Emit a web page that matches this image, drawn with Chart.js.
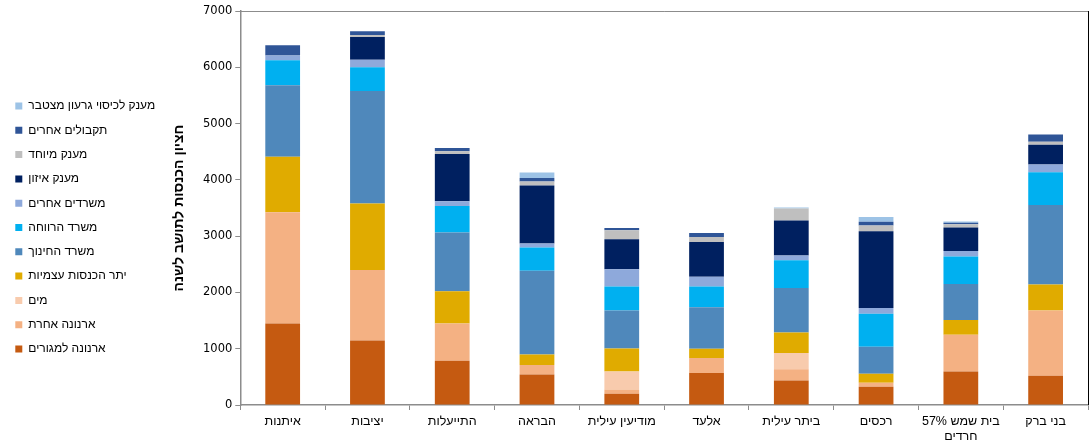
<!DOCTYPE html>
<html lang="he">
<head>
  <meta charset="UTF-8">
  <title>הכנסות לתושב לשנה</title>
  <style>
    html, body {
      margin: 0;
      padding: 0;
      background-color: #fff;
    }
    #wrap {
      width: 1092px;
      height: 444px;
    }
  </style>
</head>
<body>
  <div id="wrap"><canvas id="chart" dir="rtl" width="1092" height="444"></canvas></div>

  <script src="https://cdn.jsdelivr.net/npm/chart.js"></script>
  <script>
    const categories = ['איתנות', 'יציבות', 'התייעלות', 'הבראה', 'מודיעין עילית', 'אלעד', 'ביתר עילית', 'רכסים', ['בית שמש 57%', 'חרדים'], 'בני ברק'];

    // bottom to top
    const seriesNames = ['ארנונה למגורים', 'ארנונה אחרת', 'מים', 'יתר הכנסות עצמיות', 'משרד החינוך', 'משרד הרווחה', 'משרדים אחרים', 'מענק איזון', 'מענק מיוחד', 'תקבולים אחרים', 'מענק לכיסוי גרעון מצטבר'];
    const seriesColors = ['#C55A11', '#F4B183', '#F8CBAD', '#E0AB00', '#4F88BB', '#00B0F0', '#8EA9DB', '#002060', '#BFBFBF', '#2F5597', '#9DC3E6'];

    const residential = [1450, 1145, 785, 540, 200, 570, 435, 325, 595, 520];
    const otherTax = [1975, 1255, 665, 170, 75, 265, 200, 70, 655, 1160];
    const water = [0, 0, 0, 0, 320, 0, 290, 0, 0, 0];
    const ownIncome = [985, 1180, 570, 185, 410, 165, 365, 160, 260, 460];
    const education = [1270, 2000, 1045, 1490, 675, 735, 790, 480, 640, 1415];
    const welfare = [445, 420, 470, 415, 425, 370, 490, 585, 490, 580];
    const otherMinistries = [85, 135, 85, 70, 305, 175, 85, 105, 95, 140];
    const balanceGrant = [0, 405, 840, 1030, 535, 615, 625, 1360, 420, 350];
    const specialGrant = [0, 35, 50, 70, 160, 90, 210, 105, 55, 50];
    const otherReceipts = [180, 65, 55, 65, 40, 70, 0, 65, 30, 130];
    const deficitGrant = [0, 0, 0, 95, 0, 0, 20, 85, 20, 0];

    const yTicks = [0, 1000, 2000, 3000, 4000, 5000, 6000, 7000];

    const seriesValues = [residential, otherTax, water, ownIncome, education, welfare, otherMinistries, balanceGrant, specialGrant, otherReceipts, deficitGrant];

    const datasets = seriesNames.map((name, i) => ({
      label: name,
      data: seriesValues[i],
      backgroundColor: seriesColors[i],
      borderWidth: 0,
      categoryPercentage: 1.0,
      barPercentage: 0.41
    }));

    // top and right frame of the plot area
    const frame = {
      id: 'frame',
      afterDraw(chart) {
        const a = chart.chartArea;
        const ctx = chart.ctx;
        ctx.save();
        ctx.lineWidth = 1;
        ctx.strokeStyle = '#8c8c8c';
        ctx.beginPath();
        ctx.moveTo(a.left, a.top + 0.5);
        ctx.lineTo(a.right, a.top + 0.5);
        ctx.stroke();
        ctx.strokeStyle = '#000';
        ctx.beginPath();
        ctx.moveTo(a.right + 0.5, a.top);
        ctx.lineTo(a.right + 0.5, a.bottom);
        ctx.stroke();
        ctx.restore();
      }
    };

    new Chart(document.getElementById('chart'), {
      type: 'bar',
      data: { labels: categories, datasets: datasets },
      plugins: [frame],
      options: {
        responsive: false,
        animation: false,
        layout: { padding: { top: 11, right: 4, left: 3, bottom: 0 } },
        plugins: {
          tooltip: { enabled: false },
          legend: {
            position: 'left',
            reverse: true,
            labels: {
              boxWidth: 7,
              boxHeight: 7,
              padding: 12.3,
              color: '#000',
              font: { family: 'Liberation Sans', size: 12 }
            }
          }
        },
        scales: {
          x: {
            stacked: true,
            offset: true,
            afterFit(scale) {
              scale.height = 39;
            },
            grid: {
              display: true,
              offset: true,
              drawOnChartArea: false,
              drawTicks: true,
              tickLength: 5,
              color: '#8c8c8c'
            },
            border: { color: '#8c8c8c', width: 1.5 },
            ticks: {
              color: '#000',
              maxRotation: 0,
              autoSkip: false,
              padding: 4,
              font: { family: 'Liberation Sans', size: 12.5, lineHeight: 1.2 }
            }
          },
          y: {
            stacked: true,
            min: 0,
            max: 7000,
            afterBuildTicks(scale) {
              scale.ticks = yTicks.map(v => ({ value: v }));
            },
            grid: {
              display: true,
              drawOnChartArea: false,
              drawTicks: true,
              tickLength: 5,
              color: '#8c8c8c'
            },
            border: { color: '#8c8c8c', width: 1.5 },
            ticks: {
              color: '#000',
              padding: 3,
              font: { family: 'DejaVu Sans', size: 11.5 },
              callback: v => String(v)
            },
            title: {
              display: true,
              text: 'חציון הכנסות לתושב לשנה',
              color: '#000',
              padding: { top: 6, bottom: 12 },
              font: { family: 'Liberation Sans', size: 14, weight: 'bold' }
            }
          }
        }
      }
    });
  </script>
</body>
</html>
